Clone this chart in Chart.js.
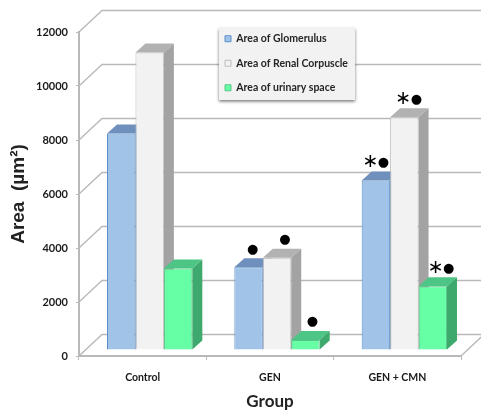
<!DOCTYPE html>
<html>
<head>
<meta charset="utf-8">
<script src="https://cdn.jsdelivr.net/npm/chart.js@4"></script>
<style>
html,body{margin:0;padding:0;background:#fff;overflow:hidden}
canvas{display:block;filter:blur(0.45px)}
</style>
</head>
<body>
<canvas id="c" width="481" height="410" style="width:481px;height:410px"></canvas>
<script>
const categories = ['Control', 'GEN', 'GEN + CMN'];
const glomerulus = [8000, 3050, 6260];
const corpuscle = [11000, 3400, 8600];
const urinary = [3000, 350, 2340];
const yTicks = [0, 2000, 4000, 6000, 8000, 10000, 12000];
const glomerulusMarks = ['', '●', '∗ ●'];
const corpuscleMarks = ['', '●', '∗ ●'];
const urinaryMarks = ['', '●', '∗ ●'];

const WALL_DX = 23, WALL_DY = -21.5, BAR_DX = 10, BAR_DY = -9, BAR_SHIFT = 7;
const FONT = 'Lato, sans-serif';
const LINE = '#b9b9b9';
const sideStyles = [
  {top: '#6f90bd', side: '#5f82b0'},
  {top: '#b2b2b2', side: '#a3a3a3'},
  {top: '#4cc585', side: '#3da96c'}
];
const dotOffset = [4, 8, 7];
const starOffset = [-5.5, -1, 3];

const scenery = {
  id: 'scenery',
  afterLayout(chart) {
    const lg = chart.legend, p = lg.options.labels.padding;
    lg.left = 225 - p;
    lg.right = lg.left + lg.width;
    lg.top = 40 - p - 6.5;
  },
  beforeDraw(chart) {
    const {ctx, chartArea: a, scales: {y}} = chart;
    ctx.save();
    ctx.strokeStyle = LINE;
    ctx.lineWidth = 1.4;
    yTicks.forEach(v => {
      const py = y.getPixelForValue(v);
      ctx.beginPath();
      ctx.moveTo(a.left, py);
      ctx.lineTo(a.left + WALL_DX, py + WALL_DY);
      ctx.lineTo(chart.width, py + WALL_DY);
      ctx.stroke();
    });
    ctx.beginPath();
    ctx.moveTo(a.right, a.bottom);
    ctx.lineTo(a.right + WALL_DX, a.bottom + WALL_DY);
    ctx.stroke();
    ctx.shadowColor = 'rgba(0,0,0,0.55)';
    ctx.shadowBlur = 3;
    ctx.shadowOffsetY = 1.5;
    ctx.fillStyle = '#f2f2f2';
    ctx.fillRect(219, 27, 136, 73);
    ctx.restore();
  },
  beforeDatasetsDraw(chart) {
    const {ctx} = chart;
    ctx.save();
    ctx.translate(BAR_SHIFT, 0);
    chart.data.datasets.forEach((ds, d) => {
      const st = sideStyles[d];
      chart.getDatasetMeta(d).data.forEach(b => {
        const l = b.x - b.width / 2, r = b.x + b.width / 2, t = b.y, bt = b.base;
        ctx.fillStyle = st.top;
        ctx.beginPath();
        ctx.moveTo(l, t);
        ctx.lineTo(l + BAR_DX, t + BAR_DY);
        ctx.lineTo(r + BAR_DX, t + BAR_DY);
        ctx.lineTo(r, t);
        ctx.closePath();
        ctx.fill();
        ctx.fillStyle = st.side;
        ctx.beginPath();
        ctx.moveTo(r, t);
        ctx.lineTo(r + BAR_DX, t + BAR_DY);
        ctx.lineTo(r + BAR_DX, bt + BAR_DY);
        ctx.lineTo(r, bt);
        ctx.closePath();
        ctx.fill();
      });
    });
  },
  afterDatasetsDraw(chart) {
    const {ctx} = chart;
    ctx.restore();
    ctx.save();
    ctx.fillStyle = '#000';
    ctx.textAlign = 'center';
    ctx.textBaseline = 'middle';
    [glomerulusMarks, corpuscleMarks, urinaryMarks].forEach((marks, d) => {
      chart.getDatasetMeta(d).data.forEach((b, i) => {
        if (!marks[i]) return;
        const cx = b.x + BAR_SHIFT, cy = b.y - 18;
        const parts = marks[i].split(' ');
        if (parts.length > 1) {
          ctx.font = '19px "DejaVu Sans"';
          ctx.fillText(parts[0], cx + starOffset[d], cy);
          ctx.font = '13px "DejaVu Sans"';
          ctx.fillText(parts[1], cx + starOffset[d] + 13, cy);
        } else {
          ctx.font = '13px "DejaVu Sans"';
          ctx.fillText(parts[0], cx + dotOffset[d], cy);
        }
      });
    });
    ctx.restore();
  }
};

new Chart(document.getElementById('c'), {
  type: 'bar',
  plugins: [scenery],
  data: {
    labels: categories,
    datasets: [
      {label: 'Area of Glomerulus', data: glomerulus, yAxisID: 'y2', backgroundColor: '#a2c3e8', borderColor: '#5b8fcb', borderWidth: 1},
      {label: 'Area of Renal Corpuscle', data: corpuscle, yAxisID: 'y2', backgroundColor: '#f2f2f2', borderColor: '#bdbdbd', borderWidth: 1},
      {label: 'Area of urinary space', data: urinary, yAxisID: 'y2', backgroundColor: '#66ffa6', borderColor: '#5cc48a', borderWidth: 1}
    ]
  },
  options: {
    responsive: false,
    animation: false,
    events: [],
    layout: {padding: {top: 32, right: 20, left: 0, bottom: 0}},
    datasets: {bar: {barPercentage: 1, categoryPercentage: 0.67}},
    plugins: {
      tooltip: {enabled: false},
      legend: {
        position: 'chartArea',
        align: 'start',
        labels: {
          boxWidth: 6, boxHeight: 6, padding: 14,
          color: '#262626',
          font: {family: FONT, size: 10.5, weight: '700'}
        }
      }
    },
    scales: {
      x: {
        grid: {drawOnChartArea: false, color: LINE, tickLength: 4, tickColor: LINE},
        border: {color: LINE, width: 2},
        ticks: {color: '#1a1a1a', padding: 11, font: {family: FONT, size: 10.5, weight: '700'}, maxRotation: 0},
        title: {display: true, text: 'Group', color: '#222', font: {family: FONT, size: 17, weight: '700'}, padding: {top: 0, bottom: -2}},
        afterFit(s) { s.height = 54; }
      },
      y: {
        min: 0, max: 12000,
        grid: {drawOnChartArea: false, color: LINE, tickLength: 3, tickColor: LINE},
        border: {color: LINE, width: 2},
        ticks: {stepSize: 2000, color: '#1a1a1a', padding: 8, font: {family: FONT, size: 11, weight: '700'}, callback: v => String(v)},
        title: {display: true, text: 'Area  (µm²)', color: '#222', font: {family: '"Liberation Sans", sans-serif', size: 19, weight: '700'}, padding: {top: 7, bottom: 0}},
        afterFit(s) { s.width = 79; }
      },
      y2: {display: false, min: -240, max: 11760}
    }
  }
});
</script>
</body>
</html>
